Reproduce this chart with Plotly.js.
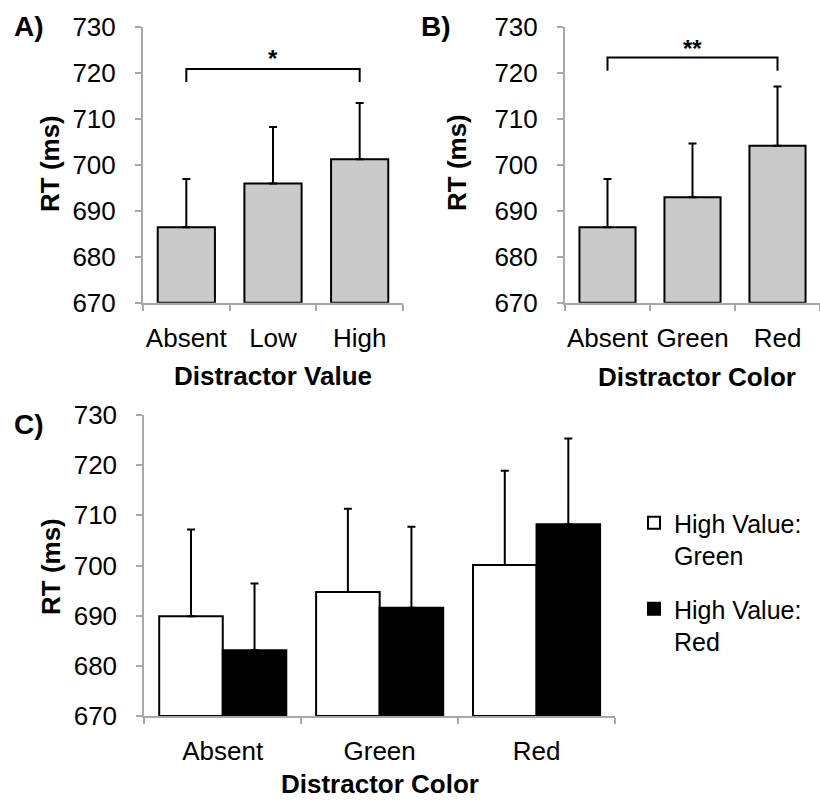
<!DOCTYPE html>
<html>
<head>
<meta charset="utf-8">
<script src="https://cdn.plot.ly/plotly-3.0.1.min.js"></script>
<style>html,body{margin:0;padding:0;background:#fff;}#chart{width:820px;height:801px;}</style>
</head>
<body>
<div id="chart"></div>
<script>
// Panel A: Distractor Value
const catsA = ['Absent', 'Low', 'High'];
const rtA = [686.4, 695.9, 701.2];
const seA = [10.5, 12.3, 12.2];

// Panel B: Distractor Color
const catsB = ['Absent', 'Green', 'Red'];
const rtB = [686.4, 692.9, 704.1];
const seB = [10.5, 11.7, 12.9];

// Panel C: Distractor Color by High-Value colour group
const catsC = ['Absent', 'Green', 'Red'];
const rtGreenGroup = [689.9, 694.7, 700.1];
const seGreenGroup = [17.3, 16.6, 18.8];
const rtRedGroup = [683.1, 691.6, 708.2];
const seRedGroup = [13.3, 16.1, 17.1];
const seriesNames = ['High Value:<br>Green', 'High Value:<br>Red'];

// Significance brackets
const sigA = {from: 'Absent', mid: 'Low', to: 'High', top: 720.8, foot: 718.0, label: '*'};
const sigB = {from: 'Absent', mid: 'Green', to: 'Red', top: 723.3, foot: 720.4, label: '**'};

const FONT = 'Liberation Sans, Arial, sans-serif';
const zeros = n => new Array(n).fill(0);

function errUp(se) {
  return {type: 'data', symmetric: false, array: se, arrayminus: zeros(se.length),
          color: '#000', thickness: 2, width: 4};
}

const traces = [
  {type: 'bar', x: catsA, y: rtA.map(v => v - 670), base: 670, xaxis: 'x', yaxis: 'y', width: 0.66,
   marker: {color: '#cacaca', line: {color: '#000', width: 2}}, error_y: errUp(seA), showlegend: false},
  {type: 'bar', x: catsB, y: rtB.map(v => v - 670), base: 670, xaxis: 'x2', yaxis: 'y2', width: 0.66,
   marker: {color: '#cacaca', line: {color: '#000', width: 2}}, error_y: errUp(seB), showlegend: false},
  {type: 'bar', name: seriesNames[0], x: catsC, y: rtGreenGroup.map(v => v - 670), base: 670, xaxis: 'x3', yaxis: 'y3',
   marker: {color: '#ffffff', line: {color: '#000', width: 2}}, error_y: errUp(seGreenGroup), legendgroup: 'g1'},
  {type: 'bar', name: seriesNames[1], x: catsC, y: rtRedGroup.map(v => v - 670), base: 670, xaxis: 'x3', yaxis: 'y3',
   marker: {color: '#000000', line: {color: '#000', width: 2}}, error_y: errUp(seRedGroup), legendgroup: 'g2'},
  {type: 'scatter', mode: 'lines', x: [sigA.from, sigA.from, sigA.to, sigA.to], y: [sigA.foot, sigA.top, sigA.top, sigA.foot],
   xaxis: 'x', yaxis: 'y', line: {color: '#000', width: 2}, showlegend: false, hoverinfo: 'skip'},
  {type: 'scatter', mode: 'lines', x: [sigB.from, sigB.from, sigB.to, sigB.to], y: [sigB.foot, sigB.top, sigB.top, sigB.foot],
   xaxis: 'x2', yaxis: 'y2', line: {color: '#000', width: 2}, showlegend: false, hoverinfo: 'skip'}
];

const AXC = '#a8a8a8';
function yax(domain, anchor) {
  return {domain: domain, anchor: anchor, range: [670, 730], dtick: 10, tick0: 670,
          showline: true, linecolor: AXC, linewidth: 2, ticks: 'outside', ticklen: 6, tickcolor: AXC, tickwidth: 2,
          showgrid: false, zeroline: false, tickfont: {family: FONT, size: 26, color: '#000'}, ticklabelstandoff: 14,
          automargin: false, fixedrange: true};
}
function xax(domain, anchor, cats) {
  return {domain: domain, anchor: anchor, type: 'category', categoryarray: cats, categoryorder: 'array',
          showline: true, linecolor: AXC, linewidth: 2, ticks: 'outside', ticklen: 6, tickcolor: AXC, tickwidth: 2,
          tickson: 'boundaries', showgrid: false, zeroline: false, tickangle: 0,
          tickfont: {family: FONT, size: 26, color: '#000'}, ticklabelstandoff: 11, automargin: false, fixedrange: true};
}

const H = 801, W = 820;
const px = v => v / W;
const py = v => (H - v) / H;

const boldT = (text, x, y, rot, size, yanchor) => ({text: text, xref: 'paper', yref: 'paper', x: px(x), y: py(y),
  xanchor: 'center', yanchor: yanchor || 'middle', showarrow: false, textangle: rot || 0,
  font: {family: FONT, size: size || 26, color: '#000', weight: 'bold'}});

const layout = {
  width: W, height: H,
  margin: {l: 0, r: 0, t: 0, b: 0},
  paper_bgcolor: '#fff', plot_bgcolor: 'rgba(0,0,0,0)',
  barmode: 'group', bargap: 0.19, bargroupgap: 0,
  font: {family: FONT, color: '#000'},
  xaxis: xax([px(143), px(403)], 'y', catsA),
  yaxis: yax([py(302.7), py(26.7)], 'x'),
  xaxis2: xax([px(565), 1], 'y2', catsB),
  yaxis2: yax([py(302.7), py(26.7)], 'x2'),
  xaxis3: xax([px(144.3), px(615)], 'y3', catsC),
  yaxis3: yax([py(716), py(415)], 'x3'),
  showlegend: true,
  legend: {x: px(634), y: py(500), xanchor: 'left', yanchor: 'top', valign: 'top',
           font: {family: FONT, size: 25, color: '#000'}, tracegroupgap: 18, itemwidth: 30,
           bgcolor: 'rgba(0,0,0,0)', traceorder: 'grouped'},
  annotations: [
    boldT('A)', 29, 27, 0, 28), boldT('B)', 436, 27, 0, 28), boldT('C)', 29, 425, 0, 28),
    boldT('RT (ms)', 50, 164, -90), boldT('RT (ms)', 457, 163, -90), boldT('RT (ms)', 51, 567, -90),
    boldT('Distractor Value', 273, 376), boldT('Distractor Color', 697, 377), boldT('Distractor Color', 380, 801, 0, 26, 'bottom'),
    {text: sigA.label, xref: 'x', yref: 'y', x: sigA.mid, y: sigA.top, yanchor: 'bottom', yshift: -5, showarrow: false,
     font: {family: FONT, size: 24, color: '#000', weight: 'bold'}},
    {text: sigB.label, xref: 'x2', yref: 'y2', x: sigB.mid, y: sigB.top, yanchor: 'bottom', yshift: -6, showarrow: false,
     font: {family: FONT, size: 24, color: '#000', weight: 'bold'}}
  ]
};

Plotly.newPlot('chart', traces, layout, {displayModeBar: false, staticPlot: true});
</script>
</body>
</html>
